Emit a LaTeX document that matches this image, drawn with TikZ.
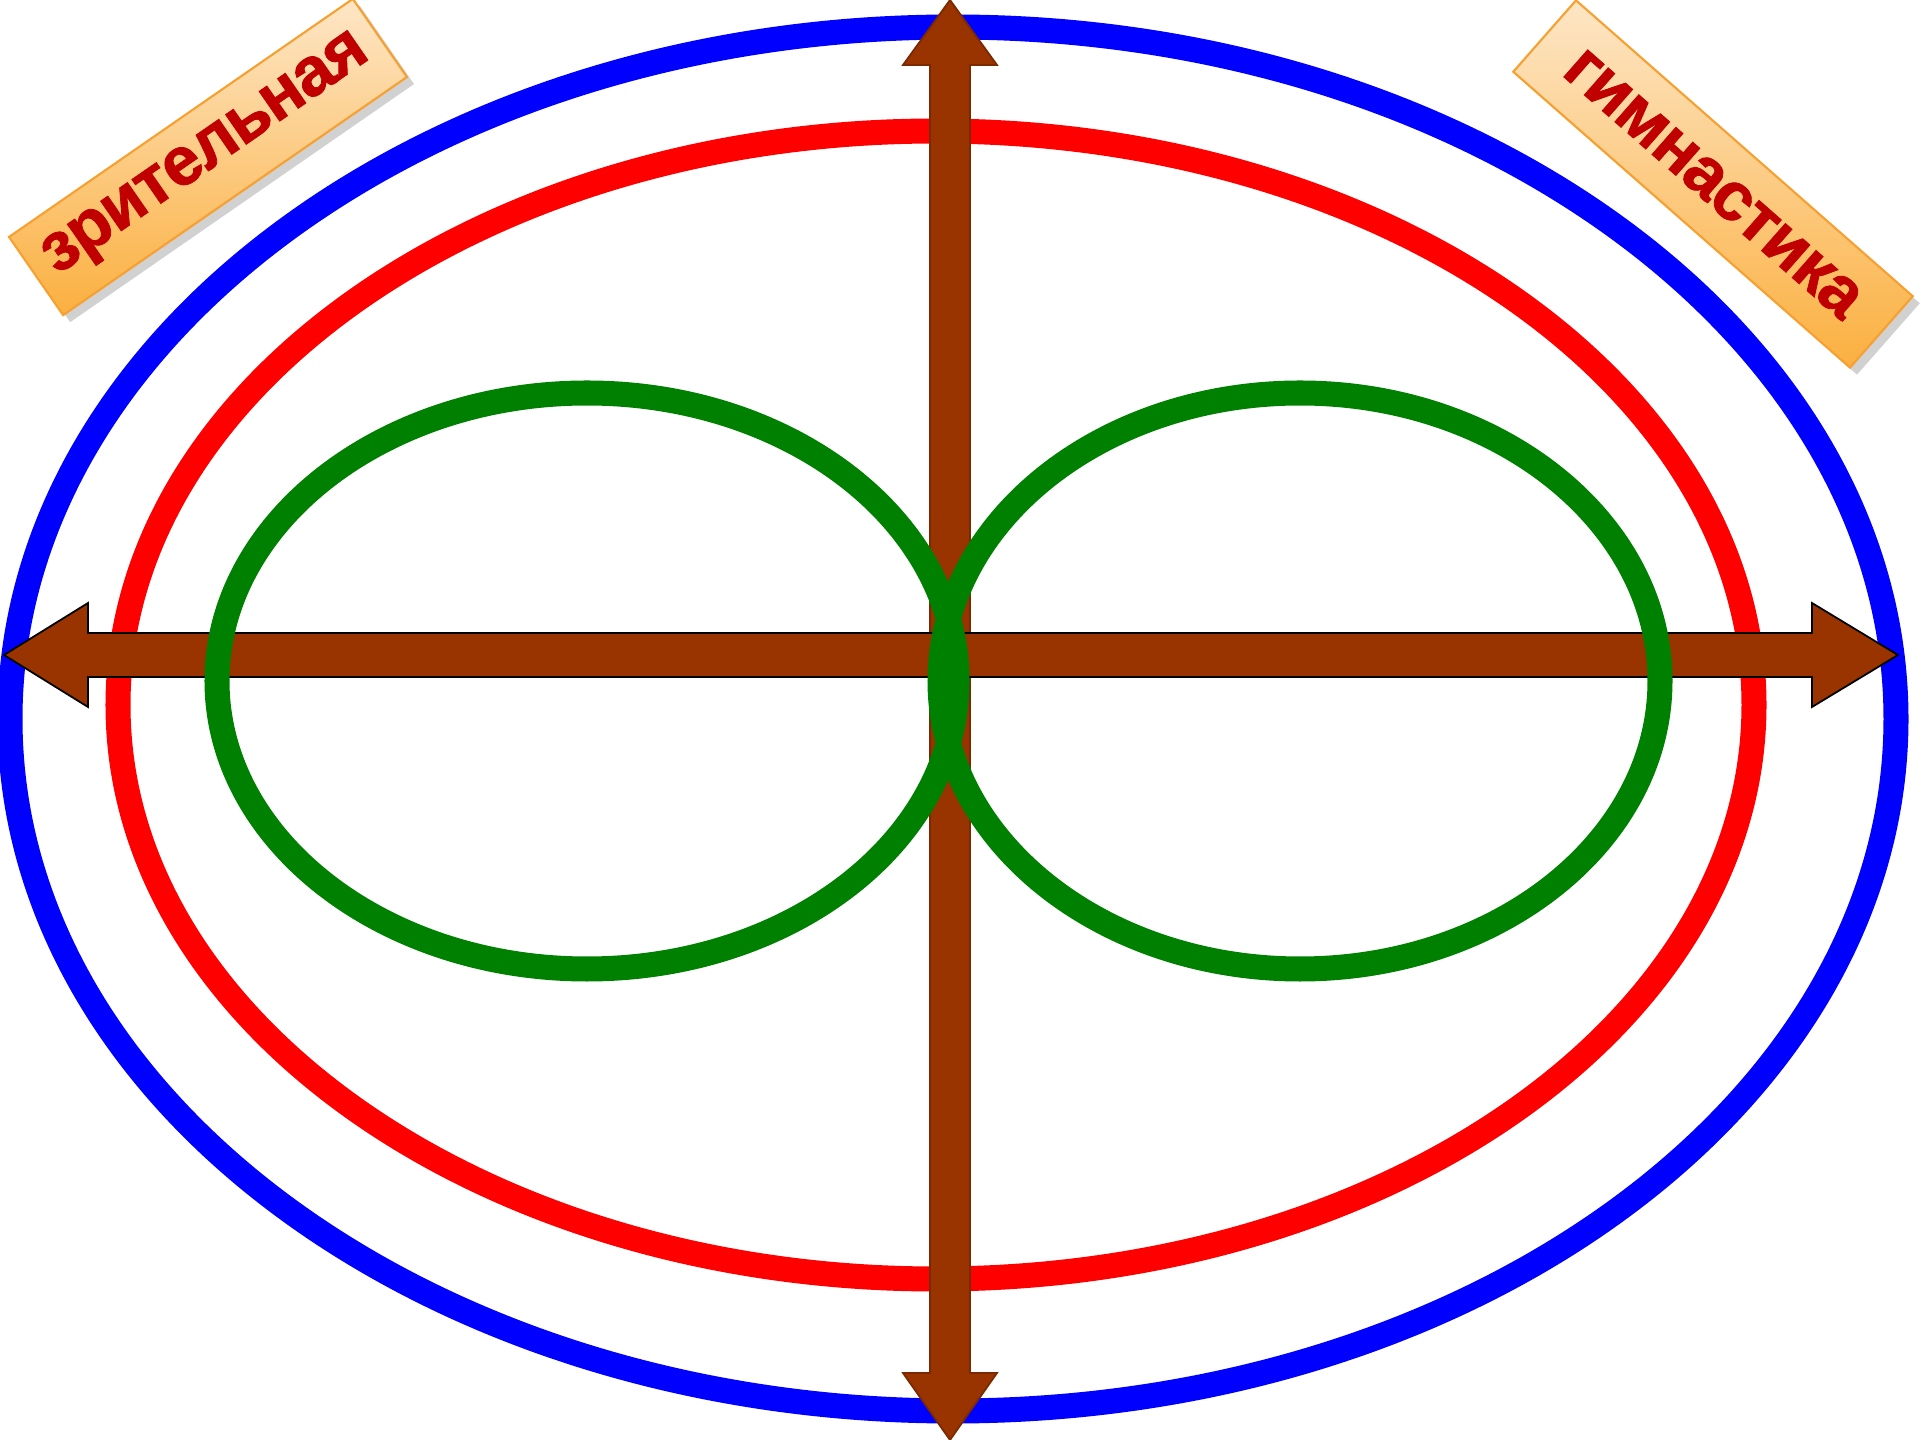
\documentclass[tikz,border=0pt]{standalone}
\usepackage{fontspec}
\setmainfont{Liberation Sans}[BoldFont={Liberation Sans Bold}]
\newfontfamily\lblfont{Liberation Sans Bold}[FakeBold=1.2, LetterSpace=-2]
\usepackage{tikz}
\usetikzlibrary{shadows}
\definecolor{eyeBlue}{HTML}{0000FF}
\definecolor{eyeRed}{HTML}{FF0000}
\definecolor{eyeGreen}{HTML}{008000}
\definecolor{eyeBrown}{HTML}{993300}
\definecolor{lblText}{HTML}{C00000}
\definecolor{lblLight}{HTML}{FDE6C6}
\definecolor{lblDark}{HTML}{FBB040}
\definecolor{lblEdge}{HTML}{F7A030}

\begin{document}
\begin{tikzpicture}[x=0.01cm, y=-0.01cm,
    loop/.style={line width=0.25cm},
    fat/.style={fill=eyeBrown, draw=eyeBrown!80!black, line width=0.5pt, line join=miter},
    lbl/.style={draw=lblEdge, line width=0.6pt, top color=lblLight, bottom color=lblDark,
      minimum height=0.95cm, inner sep=0pt, text=lblText,
      font=\lblfont\fontsize{19.5}{23}\selectfont,
      drop shadow={shadow xshift=2pt, shadow yshift=-2pt, opacity=0.3, fill=black!60}}]
  \useasboundingbox (0,0) rectangle (1920,1440);
  % Ellipses (outer ones first)
  \draw[loop, eyeBlue] (953,719) ellipse [x radius=943, y radius=692];
  \draw[loop, eyeRed] (936,705) ellipse [x radius=818, y radius=574];
  % Vertical arrow
  \draw[fat] (950,0) -- (997,65) -- (970,65) -- (970,1373) -- (997,1373) -- (950,1440)
    -- (903,1373) -- (930,1373) -- (930,65) -- (903,65) -- cycle;
  % Horizontal arrow
  \draw[fat, draw=black] (4,655) -- (88,603) -- (88,633) -- (1812,633) -- (1812,603)
    -- (1898,655) -- (1812,707) -- (1812,677) -- (88,677) -- (88,707) -- cycle;
  % Figure of eight
  \draw[loop, eyeGreen] (587,681) ellipse [x radius=370, y radius=288];
  \draw[loop, eyeGreen] (1300,681) ellipse [x radius=360, y radius=288];
  % Labels
  \node[lbl, rotate=34.7, minimum width=4.18cm] (lblL) at (208,157) {зрительная};
  \node[lbl, rotate=-41.3, minimum width=4.48cm] (lblR) at (1713,184) {гимнастика};
\end{tikzpicture}
\end{document}
